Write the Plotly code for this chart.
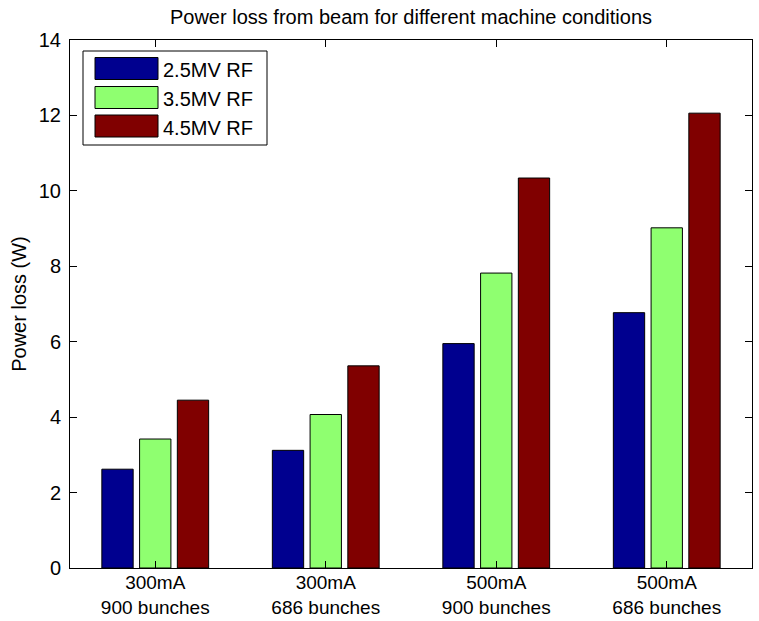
import plotly.graph_objects as go

# Machine conditions (beam current / fill pattern)
conditions = ["300mA<br>900 bunches", "300mA<br>686 bunches",
              "500mA<br>900 bunches", "500mA<br>686 bunches"]
positions = [1, 2, 3, 4]

# Power loss (W) for each RF voltage
rf_2_5 = [2.62, 3.12, 5.95, 6.77]
rf_3_5 = [3.42, 4.07, 7.82, 9.02]
rf_4_5 = [4.45, 5.36, 10.34, 12.06]

series_names = ["2.5MV RF", "3.5MV RF", "4.5MV RF"]
series_colors = ["#00008F", "#8FFF70", "#800000"]
y_ticks = [0, 2, 4, 6, 8, 10, 12, 14]

FONT = "Liberation Sans, Arial, Helvetica, sans-serif"
W, H = 759, 621
M_L, M_R, M_T, M_B = 70, 7, 40, 53
PW, PH = W - M_L - M_R, H - M_T - M_B


def px_x(px):
    return (px - M_L) / PW


def px_y(py):
    return (H - M_B - py) / PH


fig = go.Figure()
for name, vals, color in zip(series_names, [rf_2_5, rf_3_5, rf_4_5], series_colors):
    fig.add_trace(go.Bar(
        x=positions, y=vals, name=name,
        marker=dict(color=color, line=dict(color="#000000", width=1)),
        showlegend=False,
    ))

# Boxed legend with wide colour swatches in the upper-left corner
shapes = [dict(type="rect", xref="paper", yref="paper",
               x0=px_x(83), x1=px_x(267), y0=px_y(145), y1=px_y(51),
               line=dict(color="#000000", width=1), fillcolor="white", layer="above")]
annotations = []
row_centers = [68.5, 97.5, 126.0]
for name, color, cy in zip(series_names, series_colors, row_centers):
    shapes.append(dict(type="rect", xref="paper", yref="paper",
                       x0=px_x(95), x1=px_x(158), y0=px_y(cy + 11), y1=px_y(cy - 11),
                       line=dict(color="#000000", width=1), fillcolor=color, layer="above"))
    annotations.append(dict(xref="paper", yref="paper", x=px_x(161), y=px_y(cy + 1.5),
                            text=name, showarrow=False, xanchor="left", yanchor="middle",
                            font=dict(family=FONT, size=20, color="#000000")))

fig.update_layout(
    width=W, height=H,
    margin=dict(l=M_L, r=M_R, t=M_T, b=M_B, autoexpand=False),
    paper_bgcolor="white", plot_bgcolor="white",
    barmode="group", bargap=0.336, bargroupgap=0.17,
    font=dict(family=FONT, size=20, color="#000000"),
    title=dict(text="Power loss from beam for different machine conditions",
               x=0.5, xref="paper", xanchor="center",
               y=1 - 17 / H, yref="container", yanchor="middle",
               font=dict(family=FONT, size=20, color="#000000")),
    shapes=shapes, annotations=annotations,
)
fig.update_xaxes(
    range=[0.5, 4.5], tickvals=positions, ticktext=conditions,
    showline=True, linecolor="#000000", linewidth=1, mirror="ticks",
    ticks="inside", ticklen=7, tickcolor="#000000", tickwidth=1,
    showgrid=False, zeroline=False, ticklabelstandoff=-3, automargin=False,
    tickfont=dict(family=FONT, size=19, color="#000000"),
)
fig.update_yaxes(
    range=[0, 14], tickvals=y_ticks,
    showline=True, linecolor="#000000", linewidth=1, mirror="ticks",
    ticks="inside", ticklen=7, tickcolor="#000000", tickwidth=1,
    showgrid=False, zeroline=False, ticklabelstandoff=4, automargin=False,
    tickfont=dict(family=FONT, size=20, color="#000000"),
    title=dict(text="Power loss (W)", standoff=6,
               font=dict(family=FONT, size=20, color="#000000")),
)

fig.write_html("out.html")
